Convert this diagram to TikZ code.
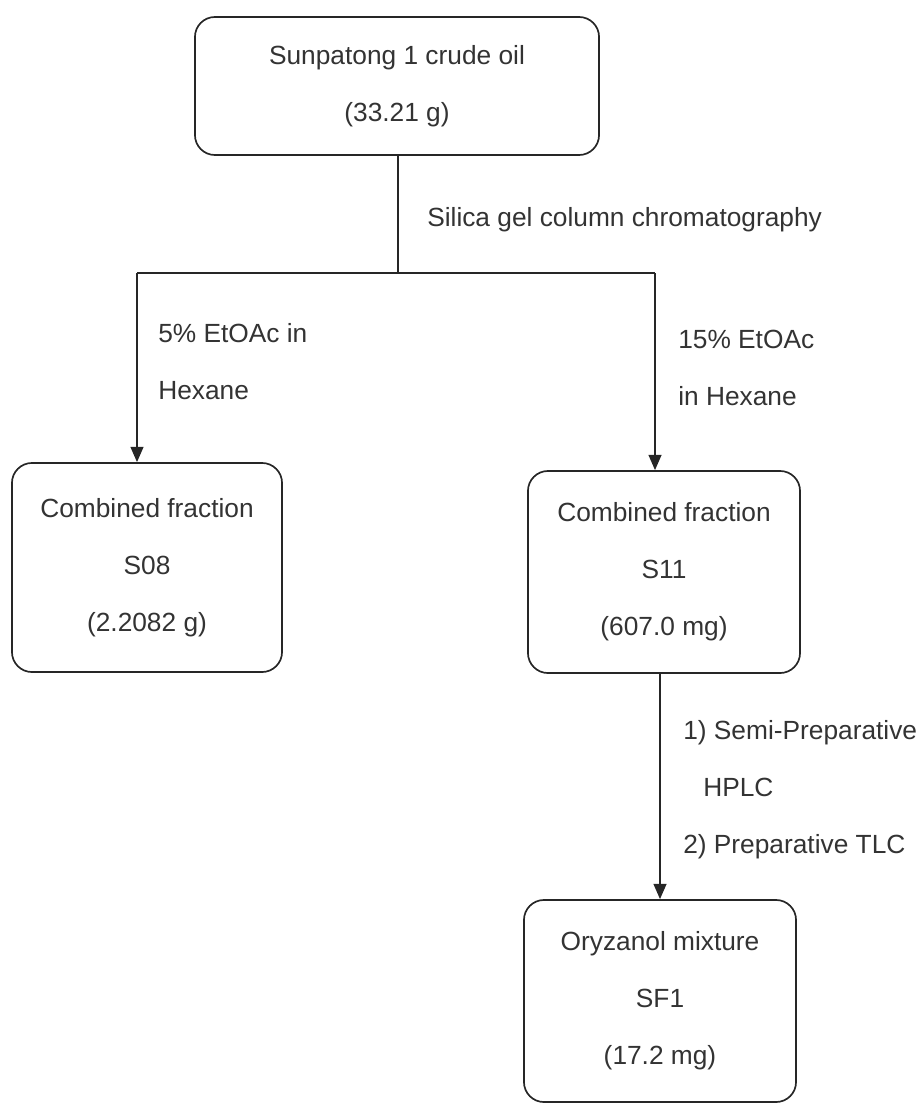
\documentclass[tikz,border=0pt]{standalone}
\usepackage{fontspec}
\setmainfont{Liberation Sans}
\usetikzlibrary{arrows.meta}

\begin{document}
\begin{tikzpicture}[x=0.025cm,y=-0.025cm,
    every node/.style={text=black!80,font=\fontsize{18.7}{40.5}\selectfont},
    roundbox/.style={draw=black!85,line width=1.2pt,rounded corners=0.5cm,align=center,inner sep=0pt},
    cond/.style={align=left,anchor=west,inner sep=0pt},
    link/.style={draw=black!85,line width=1.2pt},
    flow/.style={link,-{Triangle[length=0.38cm,width=0.32cm]}}]
      \useasboundingbox (0,0) rectangle (920,1104);
      \node[roundbox,minimum width=10.1cm,minimum height=3.45cm] (crude) at (397,86) {Sunpatong 1 crude oil\\(33.21 g)};
      \node[roundbox,minimum width=6.75cm,minimum height=5.225cm] (s08) at (147,567.5) {Combined fraction\\S08\\(2.2082 g)};
      \node[roundbox,minimum width=6.8cm,minimum height=5.05cm] (s11) at (664,572) {Combined fraction\\S11\\(607.0 mg)};
      \node[roundbox,minimum width=6.8cm,minimum height=5.05cm] (sf1) at (660,1001) {Oryzanol mixture\\SF1\\(17.2 mg)};
      \coordinate (split) at (398,273);
      \coordinate (splitL) at (137,273);
      \coordinate (splitR) at (655,273);
      \draw[link] (crude.south -| split) -- (split);
      \draw[link] (splitL) -- (splitR);
      \draw[flow] (splitL) -- (splitL |- s08.north);
      \draw[flow] (splitR) -- (splitR |- s11.north);
      \draw[flow] (s11.south -| sf1.north) -- (sf1.north);
      \node[cond] (silica) at (427,220) {Silica gel column chromatography};
      \node[cond] (eluent1) at (158,362) {5\% EtOAc in\\Hexane};
      \node[cond] (eluent2) at (678,368) {15\% EtOAc\\in Hexane};
      \node[cond] (purify) at (683,790) {1) Semi-Preparative\\\hspace*{0.5cm}HPLC\\2) Preparative TLC};
\end{tikzpicture}
\end{document}
